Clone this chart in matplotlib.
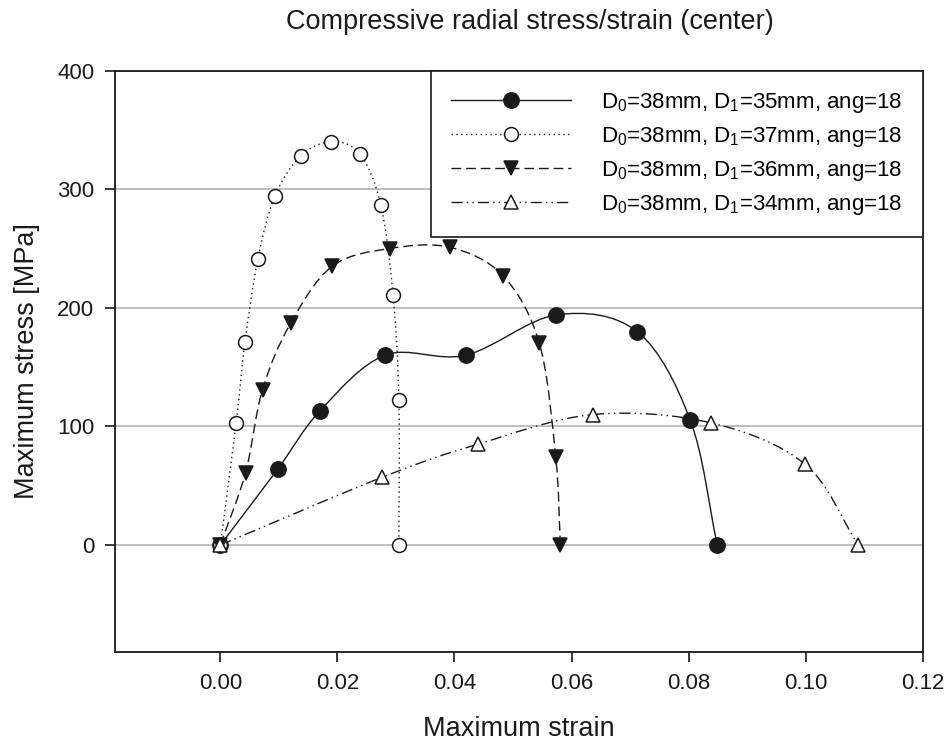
import numpy as np
import matplotlib
matplotlib.use("Agg")
import matplotlib.pyplot as plt
from matplotlib.path import Path
from matplotlib.patches import PathPatch
from matplotlib.lines import Line2D

plt.rcParams['font.family'] = ['Liberation Sans', 'DejaVu Sans']
plt.rcParams['mathtext.fontset'] = 'custom'
plt.rcParams['mathtext.rm'] = 'Liberation Sans'
plt.rcParams['mathtext.default'] = 'regular'

# D1 = 35 mm (filled circles, solid)
strain_35 = [0.0, 0.0098, 0.0170, 0.0281, 0.0419, 0.0574, 0.0712, 0.0803, 0.0849]
stress_35 = [0, 64, 113, 160, 160, 194, 180, 105, 0]

# D1 = 37 mm (open circles, dotted)
strain_37 = [0.0, 0.0027, 0.0042, 0.0064, 0.0093, 0.0137, 0.0189, 0.0238, 0.0274, 0.0295, 0.0305, 0.0305]
stress_37 = [0, 103, 171, 241, 294, 328, 340, 330, 287, 211, 122, 0]

# D1 = 36 mm (filled down triangles, dashed)
strain_36 = [0.0, 0.0043, 0.0072, 0.0120, 0.0191, 0.0289, 0.0392, 0.0483, 0.0545, 0.0573, 0.0581]
stress_36 = [0, 61, 131, 187, 235, 250, 251, 227, 170, 74, 0]

# D1 = 34 mm (open up triangles, dash-dot-dot)
strain_34 = [0.0, 0.0276, 0.0440, 0.0637, 0.0838, 0.0999, 0.1090]
stress_34 = [0, 57, 85, 110, 103, 68, 0]

labels = [
    r'D$_0$=38mm, D$_1$=35mm, ang=18',
    r'D$_0$=38mm, D$_1$=37mm, ang=18',
    r'D$_0$=38mm, D$_1$=36mm, ang=18',
    r'D$_0$=38mm, D$_1$=34mm, ang=18',
]


def spline_path(xs, ys):
    # smooth curve through the points (Catmull-Rom as cubic Bezier)
    p = np.column_stack([xs, ys]).astype(float)
    ext = np.vstack([2 * p[0] - p[1], p, 2 * p[-1] - p[-2]])
    verts = [p[0]]
    codes = [Path.MOVETO]
    for i in range(1, len(ext) - 2):
        p0, p1, p2, p3 = ext[i - 1], ext[i], ext[i + 1], ext[i + 2]
        verts += [p1 + (p2 - p0) / 6, p2 - (p3 - p1) / 6, p2]
        codes += [Path.CURVE4] * 3
    return Path(verts, codes)


fig = plt.figure(figsize=(9.49, 7.47), dpi=100)
ax = fig.add_axes([0.1212, 0.1276, 0.8511, 0.7778])

ink = '#1a1a1a'
lw = 1.0
series = [
    (strain_35, stress_35, '-', 'o', ink, 11),
    (strain_37, stress_37, (0, (1, 2.5)), 'o', 'white', 10),
    (strain_36, stress_36, (0, (7, 3.5)), 'v', ink, 10),
    (strain_34, stress_34, (0, (8, 3, 1, 3, 1, 3)), '^', 'white', 10),
]

handles = []
for (xs, ys, ls, mk, fc, ms), lab in zip(series, labels):
    ax.add_patch(PathPatch(spline_path(xs, ys), fill=False, edgecolor=ink,
                           linewidth=lw, linestyle=ls, zorder=3))
    ax.plot(xs, ys, linestyle='none', marker=mk, markersize=ms,
            markerfacecolor=fc, markeredgecolor=ink, markeredgewidth=1.1, zorder=4)
    handles.append(Line2D([], [], color=ink, linewidth=lw, linestyle=ls, marker=mk,
                          markersize=ms, markerfacecolor=fc, markeredgecolor=ink,
                          markeredgewidth=1.1))

ax.set_xlim(-0.018, 0.12)
ax.set_ylim(-90, 400)
ax.set_xticks([0.0, 0.02, 0.04, 0.06, 0.08, 0.10, 0.12])
ax.set_xticklabels(['0.00', '0.02', '0.04', '0.06', '0.08', '0.10', '0.12'])
ax.set_yticks([0, 100, 200, 300, 400])
ax.yaxis.grid(True, color='#b4b4b4', linewidth=1.2, zorder=0)
ax.set_axisbelow(True)
ax.tick_params(labelsize=16, length=7, width=1.2, color=ink, labelcolor=ink, pad=8)
for s in ax.spines.values():
    s.set_linewidth(1.3)
    s.set_color(ink)

ax.set_xlabel('Maximum strain', fontsize=19.5, color=ink, labelpad=16)
ax.set_ylabel('Maximum stress [MPa]', fontsize=19.5, color=ink, labelpad=12)
fig.text(530 / 949, 1 - 22 / 747, 'Compressive radial stress/strain (center)',
         ha='center', va='center', fontsize=19.5, color=ink)

leg = ax.legend(handles, labels, loc='upper right', fontsize=16, handlelength=5.4,
                handletextpad=1.35, borderpad=0.9, labelspacing=0.45,
                borderaxespad=0, fancybox=False, framealpha=1, numpoints=1)
leg.get_frame().set_edgecolor(ink)
leg.get_frame().set_linewidth(1.2)
leg.set_zorder(5)

fig.savefig('out.png', dpi=100)
